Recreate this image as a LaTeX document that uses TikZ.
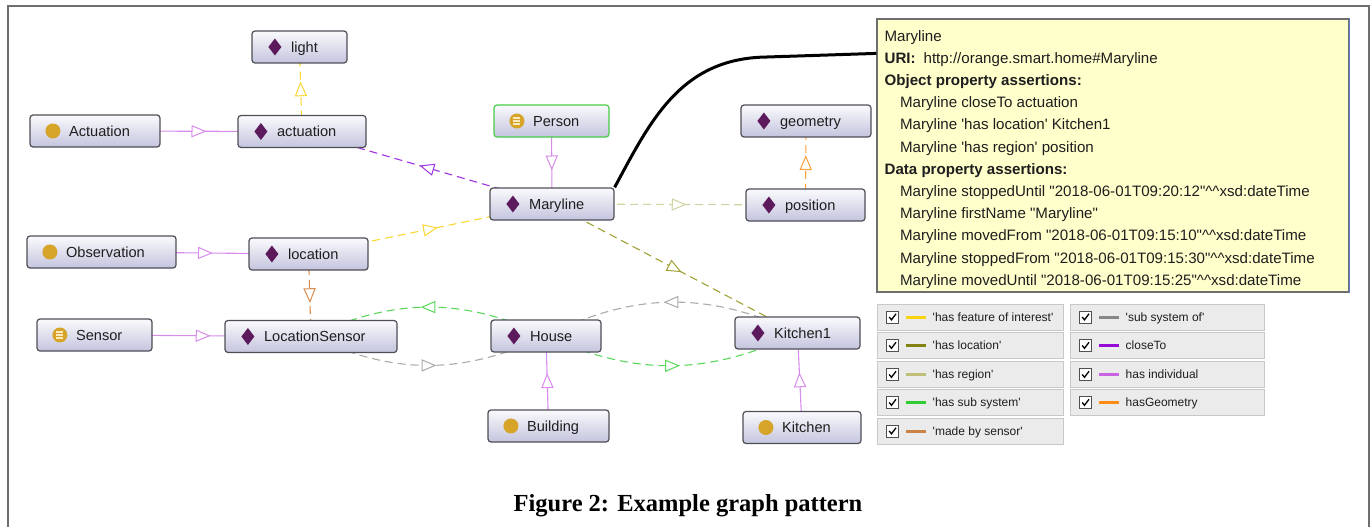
\documentclass[tikz,border=0pt]{standalone}
\usepackage{fontspec}
\setmainfont{Liberation Sans}[Ligatures=TeXOff]
\newfontfamily\capfont{Liberation Serif}
\usetikzlibrary{decorations.markings}

% node look
\definecolor{boxtop}{RGB}{250,250,253}
\definecolor{boxbot}{RGB}{196,196,222}
\definecolor{boxline}{RGB}{78,78,86}
\definecolor{diamc}{RGB}{92,26,92}
\definecolor{dotc}{RGB}{214,164,40}
\definecolor{dotline}{RGB}{250,232,190}
\definecolor{txt}{RGB}{30,30,30}
\definecolor{classgreen}{RGB}{70,205,70}
\definecolor{framec}{RGB}{110,110,110}
\definecolor{tipfill}{RGB}{255,255,204}
\definecolor{tipline}{RGB}{110,110,110}
\definecolor{tipedge}{RGB}{95,125,200}
\definecolor{legfill}{RGB}{235,235,235}
\definecolor{legline}{RGB}{200,200,200}
\definecolor{chkline}{RGB}{80,80,80}
% legend colours
\definecolor{cFeature}{RGB}{250,210,20}
\definecolor{cLocation}{RGB}{130,130,20}
\definecolor{cRegion}{RGB}{190,190,120}
\definecolor{cSubSys}{RGB}{50,205,50}
\definecolor{cSensor}{RGB}{205,130,70}
\definecolor{cSubOf}{RGB}{135,135,135}
\definecolor{cClose}{RGB}{150,10,215}
\definecolor{cIndiv}{RGB}{200,100,225}
\definecolor{cGeom}{RGB}{255,140,20}
% edge colours in the graph
\definecolor{eFeature}{RGB}{250,215,50}
\definecolor{eIndiv}{RGB}{215,140,235}
\definecolor{eClose}{RGB}{160,50,225}
\definecolor{eRegion}{RGB}{210,210,160}
\definecolor{eGeom}{RGB}{255,160,60}
\definecolor{eSensor}{RGB}{215,140,80}
\definecolor{eLocation}{RGB}{160,160,50}
\definecolor{eSubSys}{RGB}{90,215,90}
\definecolor{eSubOf}{RGB}{170,170,170}

\pgfdeclarelayer{bg}
\pgfsetlayers{bg,main}

\tikzset{
  obox/.style={draw=boxline, line width=1.2pt, rounded corners=3pt,
    top color=boxtop, bottom color=boxbot, minimum height=32pt, inner sep=0pt},
  olabel/.style={anchor=base west, inner sep=0pt, text=txt,
    font=\fontsize{14.6}{17}\selectfont},
  relline/.style={line width=1.1pt, draw=#1, postaction={decorate},
    decoration={markings, mark=at position 0.5 with {%
      \draw[#1, solid, line width=1pt, fill=white]
        (6.5pt,0pt) -- (-6.5pt,5.5pt) -- (-6.5pt,-5.5pt) -- cycle;}}},
  reldash/.style={relline=#1, dash pattern=on 8pt off 5pt},
  pics/diamondicon/.style={code={%
    \fill[diamc] (0,-8.5) -- (6.5,0) -- (0,8.5) -- (-6.5,0) -- cycle;}},
  pics/circleicon/.style={code={%
    \fill[dotc] (0,0) circle[radius=7.5pt];}},
  pics/equivicon/.style={code={%
    \fill[dotc] (0,0) circle[radius=7.5pt];
    \draw[dotline, line width=1.2pt] (-3.5,-3) -- (3.5,-3) (-3.5,0) -- (3.5,0) (-3.5,3) -- (3.5,3);}},
  infobox/.style={draw=tipline, line width=1.2pt, fill=tipfill, inner sep=0pt,
    minimum width=472pt, minimum height=273pt},
  infotext/.style={anchor=base west, inner sep=0pt, text=txt,
    font=\fontsize{15.1}{17}\selectfont},
  legbox/.style={draw=legline, line width=1pt, fill=legfill,
    minimum height=26pt, inner sep=0pt},
  chkbox/.style={draw=chkline, line width=0.8pt, fill=white,
    minimum size=12pt, inner sep=0pt},
  legtext/.style={anchor=base west, inner sep=0pt, text=txt,
    font=\fontsize{12}{14}\selectfont},
}

% ontology node: extra style, name, centre, width, icon, label
\newcommand\gnode[6]{%
  \node[obox, minimum width=#4pt, #1] (#2) at (#3) {};
  \path ([xshift=23.5pt]#2.west) pic {#5};
  \node[olabel] at ([xshift=39.5pt, yshift=-5.3pt]#2.west) {#6};}

% legend entry: name, centre, width, colour, label
\newcommand\legitem[5]{%
  \node[legbox, minimum width=#3pt] (#1) at (#2) {};
  \node[chkbox] (#1-box) at ([xshift=16pt]#1.west) {};
  \draw[line width=1.3pt, black] ([xshift=-3.3pt]#1-box.center) -- ++(2.3,2.8) -- ++(4.5,-6);
  \draw[line width=3pt, #4] ([xshift=29pt]#1.west) -- ++(20,0);
  \node[legtext] at ([xshift=56pt, yshift=-4.3pt]#1.west) {#5};}

% one text line of the individual's tooltip: line number, indent, text
\newcommand\infoline[3]{%
  \node[infotext] at ([xshift=#2pt, yshift={-(22.7+22.2*#1)*1pt}]info.north west) {#3};}

\begin{document}
\begin{tikzpicture}[x=1pt, y=-1pt]
\useasboundingbox (0,0) rectangle (1370,527);

% outer frame
\draw[line width=2pt, framec]
  (7.5,527) -- (7.5,6) -- (1368.5,6) -- (1368.5,527);

% ontology nodes
\gnode{}{light}{299.5,47}{95}{diamondicon}{light}
\gnode{}{clsActuation}{95,131}{130}{circleicon}{Actuation}
\gnode{}{indActuation}{302,131.5}{128}{diamondicon}{actuation}
\gnode{draw=classgreen}{person}{551.5,121}{115}{equivicon}{Person}
\gnode{}{maryline}{552,204}{124}{diamondicon}{Maryline}
\gnode{}{geometry}{806,121}{130}{diamondicon}{geometry}
\gnode{}{position}{805.5,205}{119}{diamondicon}{position}
\gnode{}{clsObservation}{101.5,252}{149}{circleicon}{Observation}
\gnode{}{location}{308.5,254}{119}{diamondicon}{location}
\gnode{}{sensor}{94.5,335}{115}{equivicon}{Sensor}
\gnode{}{locsensor}{311,336.5}{172}{diamondicon}{LocationSensor}
\gnode{}{house}{546,336}{110}{diamondicon}{House}
\gnode{}{kitchenone}{797.5,333}{125}{diamondicon}{Kitchen1}
\gnode{}{building}{548.5,426}{121}{circleicon}{Building}
\gnode{}{kitchen}{802,427.5}{118}{circleicon}{Kitchen}

% relations, drawn behind the nodes
\begin{pgfonlayer}{bg}
  \draw[reldash=eFeature] (indActuation.center) -- (light.center);
  \draw[relline=eIndiv] (clsActuation.center) -- (indActuation.center);
  \draw[reldash=eClose] (maryline.center) -- (indActuation.center);
  \draw[relline=eIndiv] (person.center) -- (maryline.center);
  \draw[reldash=eRegion] (maryline.center) -- (position.center);
  \draw[reldash=eGeom] (position.center) -- (geometry.center);
  \draw[reldash=eFeature] (location.center) -- (maryline.center);
  \draw[relline=eIndiv] (clsObservation.center) -- (location.center);
  \draw[reldash=eSensor] (location.center) -- (locsensor.center);
  \draw[relline=eIndiv] (sensor.center) -- (locsensor.center);
  \draw[reldash=eLocation] (maryline.center) -- (kitchenone.center);
  \draw[reldash=eSubSys] (house.center) to[bend right=25] (locsensor.center);
  \draw[reldash=eSubOf] (locsensor.center) to[bend right=25] (house.center);
  \draw[reldash=eSubOf] (kitchenone.center) to[bend right=26] (house.center);
  \draw[reldash=eSubSys] (house.center) to[bend right=25] (kitchenone.center);
  \draw[relline=eIndiv] (building.center) -- (house.center);
  \draw[relline=eIndiv] (kitchen.center) -- (kitchenone.center);
\end{pgfonlayer}

% tooltip of the selected individual
\node[infobox] (info) at (1113,155.5) {};
\draw[line width=1.2pt, tipedge] (info.north east) -- (info.south east);
\infoline{0}{8}{Maryline}
\infoline{1}{8}{\textbf{URI:}\hspace{8pt}http://orange.smart.home\#Maryline}
\infoline{2}{8}{\textbf{Object property assertions:}}
\infoline{3}{23.5}{Maryline closeTo actuation}
\infoline{4}{23.5}{Maryline 'has location' Kitchen1}
\infoline{5}{23.5}{Maryline 'has region' position}
\infoline{6}{8}{\textbf{Data property assertions:}}
\infoline{7}{23.5}{Maryline stoppedUntil "2018-06-01T09:20:12"\textasciicircum\textasciicircum xsd:dateTime}
\infoline{8}{23.5}{Maryline firstName "Maryline"}
\infoline{9}{23.5}{Maryline movedFrom "2018-06-01T09:15:10"\textasciicircum\textasciicircum xsd:dateTime}
\infoline{10}{23.5}{Maryline stoppedFrom "2018-06-01T09:15:30"\textasciicircum\textasciicircum xsd:dateTime}
\infoline{11}{23.5}{Maryline movedUntil "2018-06-01T09:15:25"\textasciicircum\textasciicircum xsd:dateTime}

% pointer from the individual to its tooltip
\draw[line width=3pt, black] (maryline.north east)
  .. controls (650,122) and (680,58) .. (767,57) -- ([yshift=-35pt]info.north west);

% legend of relation colours
\legitem{lgFeature}{970,317}{186}{cFeature}{'has feature of interest'}
\legitem{lgLocation}{970,345.5}{186}{cLocation}{'has location'}
\legitem{lgRegion}{970,374.5}{186}{cRegion}{'has region'}
\legitem{lgSubSys}{970,402.5}{186}{cSubSys}{'has sub system'}
\legitem{lgSensor}{970,431}{186}{cSensor}{'made by sensor'}
\legitem{lgSubOf}{1167,317}{194}{cSubOf}{'sub system of'}
\legitem{lgClose}{1167,345.5}{194}{cClose}{closeTo}
\legitem{lgIndiv}{1167,374.5}{194}{cIndiv}{has individual}
\legitem{lgGeom}{1167,402.5}{194}{cGeom}{hasGeometry}

% caption
\node[inner sep=0pt, font=\capfont\bfseries\fontsize{24.5}{28}\selectfont] (caption)
  at (688,506) {Figure 2: Example graph pattern};
\end{tikzpicture}
\end{document}
